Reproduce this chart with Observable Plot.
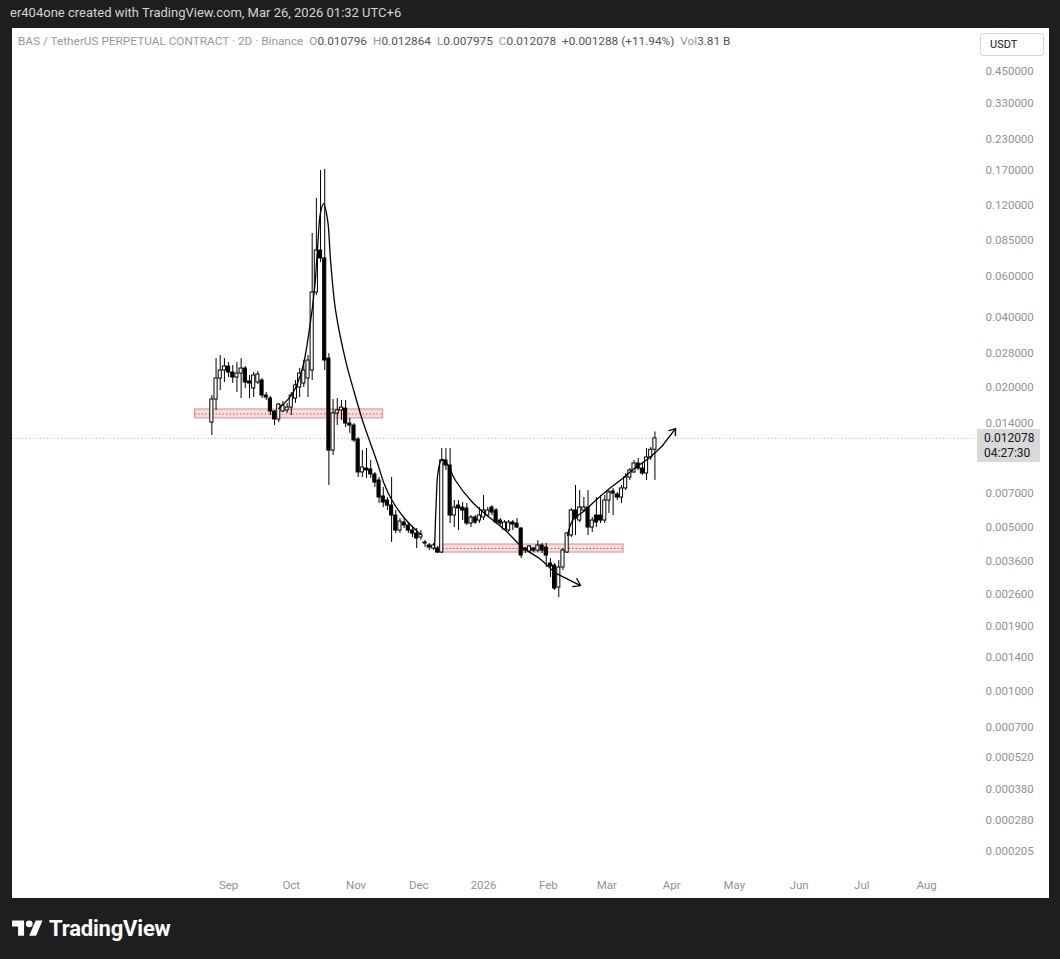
<!DOCTYPE html>
<html>
<head>
<meta charset="utf-8">
<script src="https://cdn.jsdelivr.net/npm/d3@7"></script>
<script src="https://cdn.jsdelivr.net/npm/@observablehq/plot@0.6"></script>
<style>
html,body{margin:0;padding:0;background:#1e1e1e;}
body{width:1060px;height:959px;position:relative;overflow:hidden;font-family:Roboto,"Noto Sans",sans-serif;}
#hdr{position:absolute;left:10px;top:5px;color:#d1d4dc;font-size:13px;white-space:nowrap;}
#panel{position:absolute;left:12px;top:28px;width:1037px;height:870px;background:#fff;}
#panel svg.plot{position:absolute;left:0;top:0;}
#legend{position:absolute;left:6px;top:6px;font-size:11.8px;color:#9598a1;white-space:nowrap;}
#legend .v{color:#50535e;}
#legend .it{margin-left:6px;}
#unit{position:absolute;left:968px;top:5px;width:64px;height:23px;border:1px solid #d4d6dc;border-radius:3px;font-size:11px;color:#131722;box-sizing:border-box;padding-left:9px;line-height:21px;background:#fff;}
#plabel{position:absolute;left:965px;width:63px;height:33px;background:#d9d9d9;color:#131722;font-size:12px;box-sizing:border-box;padding-left:7px;line-height:15px;padding-top:2px;}
#logo{position:absolute;left:12px;top:916px;display:flex;align-items:center;color:#fff;font-size:22px;font-weight:700;letter-spacing:-0.2px;}
</style>
</head>
<body>
<div id="hdr">er404one created with TradingView.com, Mar 26, 2026 01:32 UTC+6</div>
<div id="panel"></div>
<div id="logo"><svg width="31" height="24" viewBox="0 0 36 28"><path fill="#fff" d="M14 22H7V11H0V4h14v18zM28 22h-8l7.5-18h8L28 22z"/><circle cx="20" cy="8" r="4" fill="#fff"/></svg><span style="margin-left:6px">TradingView</span></div>
<script>
// ---- data ----
const symbolTitle = "BAS / TetherUS PERPETUAL CONTRACT · 2D · Binance";
const volumeText = "3.81 B";
const countdownText = "04:27:30";
const unitText = "USDT";
const firstCandleDate = "2025-08-24"; // 2D candles
const open = [0.01412,0.01772,0.02179,0.02358,0.02453,0.02312,0.02201,0.02289,0.02405,0.02116,
0.01975,0.02095,0.02137,0.01843,0.01789,0.01574,0.01455,0.01574,0.01590,0.01637,
0.01789,0.01994,0.02075,0.02179,0.02358,0.0509,0.0770,0.0712,0.02654,0.01071,
0.01544,0.01590,0.01621,0.01398,0.01371,0.01194,0.00863,0.00897,0.00889,0.00846,
0.00797,0.006806,0.006542,0.006227,0.005643,0.004867,0.005266,0.005113,0.004867,0.004725,
0.004542,0.004324,0.004198,0.004076,0.004076,0.003917,0.00971,0.00924,0.005643,0.006227,
0.006106,0.006046,0.005215,0.005533,0.005371,0.005533,0.005643,0.006106,0.005928,0.005371,
0.004915,0.004867,0.005266,0.005215,0.004964,0.004076,0.003956,0.004076,0.003995,0.004198,
0.004116,0.003515,0.003446,0.002774,0.003379,0.003917,0.004633,0.005928,0.005371,0.005928,
0.006106,0.005013,0.005643,0.005643,0.005371,0.006542,0.00715,0.00694,0.006739,0.00737,
0.00821,0.00863,0.00943,0.00897,0.00854,0.01000,0.010796];
const high = [0.01843,0.02654,0.02734,0.02654,0.02551,0.02477,0.02551,0.02654,0.02453,0.02245,
0.02312,0.02335,0.02179,0.01898,0.01825,0.01590,0.01703,0.01737,0.01703,0.01898,
0.02137,0.02405,0.02602,0.02734,0.0911,0.1286,0.1695,0.1712,0.02789,0.01772,
0.01789,0.01754,0.01754,0.01470,0.01398,0.01218,0.01071,0.01093,0.00971,0.00863,
0.00821,0.00744,0.006739,0.00821,0.005928,0.005479,0.005479,0.005266,0.005013,0.004964,
0.004867,0.004410,0.004282,0.004282,0.004157,0.01093,0.01093,0.01093,0.006542,0.006542,
0.006414,0.006352,0.005643,0.005643,0.006106,0.006873,0.006106,0.006227,0.006046,0.005479,
0.005371,0.005371,0.005371,0.005479,0.005013,0.004116,0.004198,0.004116,0.004410,0.004282,
0.004282,0.003692,0.003515,0.003620,0.004076,0.004772,0.006046,0.00759,0.00722,0.006739,
0.00722,0.005533,0.006739,0.006873,0.006873,0.00722,0.00737,0.00708,0.00759,0.00854,
0.00897,0.00971,0.00990,0.00943,0.01093,0.01104,0.012864];
const low = [0.01242,0.01590,0.01936,0.02095,0.02201,0.02075,0.01898,0.01789,0.01975,0.01789,
0.01807,0.02055,0.01789,0.01754,0.01514,0.01371,0.01412,0.01559,0.01544,0.01514,
0.01703,0.01807,0.01994,0.01807,0.02137,0.0494,0.0684,0.02358,0.00759,0.01019,
0.01371,0.01440,0.01344,0.01267,0.01160,0.00821,0.00821,0.00813,0.00813,0.00744,
0.006352,0.006106,0.005928,0.004324,0.004725,0.004725,0.004964,0.004725,0.004542,0.004076,
0.004410,0.004116,0.003995,0.003995,0.003879,0.003879,0.00880,0.005215,0.005013,0.004867,
0.005371,0.005113,0.005013,0.005164,0.005215,0.005371,0.005533,0.005643,0.005215,0.005113,
0.004867,0.004772,0.004867,0.004964,0.003692,0.003879,0.003879,0.003917,0.003917,0.003879,
0.003379,0.003061,0.002693,0.002513,0.003280,0.003879,0.004542,0.004633,0.005266,0.005812,
0.004633,0.004772,0.005013,0.005215,0.005215,0.005756,0.005643,0.006542,0.006352,0.00722,
0.00797,0.00854,0.00880,0.00838,0.00797,0.00971,0.007975];
const close = [0.01772,0.02179,0.02358,0.02453,0.02312,0.02201,0.02289,0.02405,0.02095,0.02075,
0.02245,0.02267,0.01843,0.01807,0.01574,0.01455,0.01686,0.01670,0.01637,0.01843,
0.02034,0.02289,0.02358,0.02602,0.0509,0.0770,0.0712,0.02602,0.01071,0.01544,
0.01590,0.01637,0.01398,0.01371,0.01183,0.00863,0.00906,0.00880,0.00846,0.00781,
0.006739,0.006414,0.006227,0.005643,0.004867,0.005318,0.005113,0.004867,0.004725,0.004498,
0.004679,0.004282,0.004116,0.004198,0.003917,0.00971,0.00924,0.005643,0.006106,0.006046,
0.005928,0.005215,0.005533,0.005266,0.005643,0.005928,0.005928,0.005812,0.005266,0.005215,
0.005266,0.005266,0.005164,0.005013,0.003803,0.003995,0.004157,0.003995,0.004198,0.003995,
0.003803,0.003412,0.002747,0.003379,0.003995,0.004725,0.005928,0.005479,0.006106,0.006106,
0.005013,0.005371,0.005266,0.005371,0.006542,0.00708,0.00701,0.006739,0.00737,0.00821,
0.00880,0.00943,0.00897,0.00854,0.01000,0.01079,0.012078];

// horizontal zones (rectangle with middle line)
const zoneStart = ["2025-08-16", "2025-12-11"];
const zoneEnd   = ["2025-11-14", "2026-03-09"];
const zoneLow   = [0.01470, 0.003917];
const zoneHigh  = [0.01606, 0.004240];
const zoneMid   = [0.01536, 0.004076];

// hand-drawn curves
const curve1Dates = ["2025-09-25","2025-10-01T14:00","2025-10-06T10:00","2025-10-09T19:00","2025-10-12T05:00","2025-10-13T14:00","2025-10-15T00:00","2025-10-16T12:00","2025-10-18T10:00","2025-10-19T19:00","2025-10-22T05:00","2025-10-27","2025-10-31T07:00","2025-11-04T02:00","2025-11-07T22:00","2025-11-11T07:00","2025-11-14T14:00","2025-11-18T12:00","2025-11-24T17:00","2025-12-01T22:00"];
const curve1Prices = [0.01621,0.01880,0.02428,0.03602,0.05348,0.07933,0.1121,0.1224,0.1035,0.0698,0.0426,0.02602,0.01880,0.01440,0.01149,0.00943,0.00766,0.006478,0.005425,0.004679];
const curve2Dates = ["2025-12-08T14:00","2025-12-09T07:00","2025-12-10T05:00","2025-12-11T22:00","2025-12-13T19:00","2025-12-15T19:00","2025-12-18T14:00","2025-12-26T19:00","2026-01-03T22:00","2026-01-11T12:00","2026-01-19T17:00","2026-01-27T19:00","2026-02-04","2026-02-16T10:00"];
const curve2Prices = [0.004116,0.006227,0.00863,0.00980,0.00961,0.00897,0.00797,0.006414,0.005533,0.004867,0.004116,0.003692,0.003216,0.002829];
const curve3Dates = ["2026-02-10T05:00","2026-02-12T14:00","2026-02-18T10:00","2026-02-23T14:00","2026-03-02T07:00","2026-03-08T12:00","2026-03-14T19:00","2026-03-21T12:00","2026-03-27T17:00","2026-04-02T22:00"];
const curve3Prices = [0.004633,0.005371,0.005928,0.006542,0.00737,0.00813,0.00906,0.01000,0.01126,0.01331];

// axis ticks
const yTicks = [0.45,0.33,0.23,0.17,0.12,0.085,0.06,0.04,0.028,0.02,0.014,0.007,0.005,0.0036,0.0026,0.0019,0.0014,0.001,0.0007,0.00052,0.00038,0.00028,0.000205];
const xTickDates = ["2025-09-01","2025-10-01","2025-11-01","2025-12-01","2026-01-01","2026-02-01","2026-03-01","2026-04-01","2026-05-01","2026-06-01","2026-07-01","2026-08-01"];
const xTickLabels = ["Sep","Oct","Nov","Dec","2026","Feb","Mar","Apr","May","Jun","Jul","Aug"];

// ---- build ----
const parse = s => new Date(s.length === 10 ? s + "T00:00Z" : s + "Z");
const start = parse(firstCandleDate);
const candles = open.map((o, i) => ({
  date: d3.utcDay.offset(start, 2 * i), open: o, high: high[i], low: low[i], close: close[i]
}));
const zones = zoneStart.map((s, i) => ({start: parse(s), end: parse(zoneEnd[i]), lo: zoneLow[i], hi: zoneHigh[i], mid: zoneMid[i]}));
const mk = (ds, ps) => ds.map((d, i) => ({date: parse(d), price: ps[i]}));
const c1 = mk(curve1Dates, curve1Prices);
const c2 = mk(curve2Dates, curve2Prices);
const c3 = mk(curve3Dates, curve3Prices);
const tail = c => [{x1: c[c.length-2].date, y1: c[c.length-2].price, x2: c[c.length-1].date, y2: c[c.length-1].price}];
const xTicks = xTickDates.map(parse);
const labelOf = new Map(xTicks.map((d, i) => [+d, xTickLabels[i]]));
const last = candles[candles.length - 1];
const prev = candles[candles.length - 2];
const f6 = d3.format(".6f");

const plot = Plot.plot({
  width: 1037, height: 870,
  marginLeft: 0, marginRight: 74, marginTop: 0, marginBottom: 28,
  style: {background: "transparent", fontFamily: "Roboto, sans-serif", fontSize: "11.5px", color: "#8f929b", overflow: "visible"},
  x: {type: "utc", domain: [new Date("2025-05-20T14:24Z"), new Date("2026-08-24T09:36Z")]},
  y: {type: "log", domain: [0.0001703, 0.6877], axis: null},
  marks: [
    Plot.ruleY([last.close], {stroke: "#b0b3ba", strokeDasharray: "1,2.5", strokeWidth: 1}),
    Plot.rect(zones, {x1: "start", x2: "end", y1: "lo", y2: "hi", fill: "#fbdcdc", stroke: "#cf8f90", strokeWidth: 1}),
    Plot.ruleY(zones, {x1: "start", x2: "end", y: "mid", stroke: "#c0392b", strokeDasharray: "1.2,2.3", strokeWidth: 1.2}),
    Plot.ruleX(candles, {x: "date", y1: "low", y2: "high", stroke: "#000", strokeWidth: 1}),
    Plot.rect(candles, {
      x1: d => d3.utcHour.offset(d.date, -18), x2: d => d3.utcHour.offset(d.date, 18),
      y1: "open", y2: "close",
      fill: d => d.close >= d.open ? "#fff" : "#000", stroke: "#000", strokeWidth: 1
    }),
    Plot.line(c1, {x: "date", y: "price", curve: "catmull-rom", stroke: "#000", strokeWidth: 1.3}),
    Plot.line(c2.slice(0, -1), {x: "date", y: "price", curve: "catmull-rom", stroke: "#000", strokeWidth: 1.3}),
    Plot.arrow(tail(c2), {x1: "x1", y1: "y1", x2: "x2", y2: "y2", stroke: "#000", strokeWidth: 1.3, headLength: 9, headAngle: 70}),
    Plot.line(c3.slice(0, -1), {x: "date", y: "price", curve: "catmull-rom", stroke: "#000", strokeWidth: 1.3}),
    Plot.arrow(tail(c3), {x1: "x1", y1: "y1", x2: "x2", y2: "y2", stroke: "#000", strokeWidth: 1.3, headLength: 9, headAngle: 70}),
    Plot.text(yTicks, {y: d => d, text: d => f6(d), frameAnchor: "right", textAnchor: "start", dx: 10, fill: "#8f929b", fontSize: 11.5}),
    Plot.axisX(xTicks, {anchor: "bottom", tickSize: 0, tickPadding: 10, tickFormat: d => labelOf.get(+d), label: null, fill: "#8f929b"})
  ]
});
plot.classList.add("plot");
const panel = document.getElementById("panel");
panel.appendChild(plot);

// legend
const chg = last.close - prev.close;
const pct = chg / prev.close * 100;
const legend = document.createElement("div");
legend.id = "legend";
legend.innerHTML = `<span>${symbolTitle}</span>` +
  `<span class="it">O<span class="v">${f6(last.open)}</span></span>` +
  `<span class="it">H<span class="v">${f6(last.high)}</span></span>` +
  `<span class="it">L<span class="v">${f6(last.low)}</span></span>` +
  `<span class="it">C<span class="v">${f6(last.close)}</span></span>` +
  `<span class="it v">${chg >= 0 ? "+" : ""}${f6(chg)} (${pct >= 0 ? "+" : ""}${pct.toFixed(2)}%)</span>` +
  `<span class="it">Vol<span class="v">${volumeText}</span></span>`;
panel.appendChild(legend);

const unit = document.createElement("div");
unit.id = "unit"; unit.textContent = unitText;
panel.appendChild(unit);

const pl = document.createElement("div");
pl.id = "plabel";
pl.innerHTML = `<div>${f6(last.close)}</div><div>${countdownText}</div>`;
pl.style.top = (plot.scale("y").apply(last.close) - 9) + "px";
panel.appendChild(pl);
</script>
</body>
</html>
